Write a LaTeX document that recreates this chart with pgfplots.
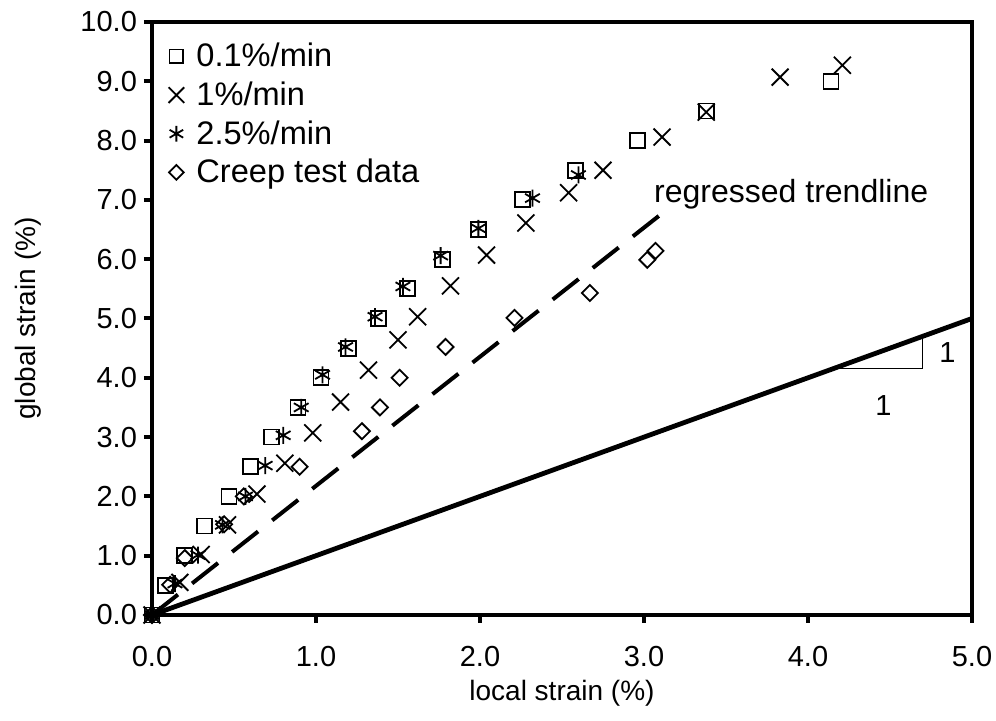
\documentclass[border=0pt]{standalone}
\usepackage{pgfplots}
\pgfplotsset{compat=1.18}
\usepackage{fontspec}
\setmainfont{Liberation Sans}
\begin{document}
\begin{tikzpicture}[font=\fontsize{14}{17}\selectfont]
\begin{axis}[
  name=ax,
  scale only axis,
  width=410pt, height=296.5pt,
  xmin=0, xmax=5, ymin=0, ymax=10,
  xtick={0,1,2,3,4,5}, ytick={0,1,2,3,4,5,6,7,8,9,10},
  xtick pos=left, ytick pos=left,
  tick align=outside,
  major tick length=4pt,
  every tick/.style={black, line width=2pt},
  axis line style={line width=2.4pt},
  tick label style={font=\fontsize{14.5}{17}\selectfont},
  label style={font=\fontsize{14}{17}\selectfont},
  xticklabel style={yshift=-8pt},
  /pgf/number format/assume math mode=true,
  xticklabel={\pgfmathprintnumber[fixed,fixed zerofill,precision=1]{\tick}},
  yticklabel={\pgfmathprintnumber[fixed,fixed zerofill,precision=1]{\tick}},
  xlabel={local strain (\%)},
  ylabel={global strain (\%)},
  every axis x label/.style={at={(axis description cs:0.5,-0.1315)}, anchor=center},
  every axis y label/.style={at={(axis description cs:-0.151,0.5)}, rotate=90, anchor=center},
  clip=false,
  legend image code/.code={\path[draw=none, fill=none] (-6pt,-5pt) rectangle (6pt,5pt); \draw[#1] plot coordinates {(0pt,0pt)};},
  legend image post style={/tikz/every mark/.append style={scale=0.92}},
  legend style={draw=none, fill=none, at={(0,1)}, anchor=north west, xshift=5pt, yshift=-7.4pt,
    row sep=2pt, inner sep=1pt, font=\fontsize{16.3}{19}\selectfont,
    /tikz/every odd column/.append style={column sep=2pt}},
  legend cell align=left,
]
% 0.1%/min
\addplot[only marks, mark=square, mark size=3.75pt, mark options={line width=0.9pt, black}] coordinates {
(0,0) (0.08,0.5) (0.2,1.0) (0.32,1.5) (0.47,2.0) (0.6,2.5) (0.73,3.0) (0.89,3.5) (1.03,4.0) (1.2,4.5)
(1.38,5.0) (1.56,5.5) (1.77,6.0) (1.99,6.5) (2.26,7.0) (2.58,7.5) (2.96,8.0) (3.38,8.5) (4.14,9.0)};
\addlegendentry{0.1\%/min}
% 1%/min
\addplot[only marks, mark=x, mark size=6pt, mark options={line width=0.9pt, black}] coordinates {
(0,0) (0.17,0.55) (0.30,1.02) (0.46,1.52) (0.64,2.04) (0.81,2.56) (0.98,3.07) (1.15,3.59) (1.32,4.13)
(1.50,4.64) (1.62,5.03) (1.82,5.55) (2.04,6.07) (2.28,6.61) (2.54,7.12) (2.75,7.50) (3.11,8.06)
(3.38,8.48) (3.83,9.07) (4.21,9.27)};
\addlegendentry{1\%/min}
% 2.5%/min
\addplot[only marks, mark=asterisk, mark size=4.25pt, mark options={line width=0.9pt, black}] coordinates {
(0,0) (0.14,0.53) (0.28,1.01) (0.43,1.52) (0.57,2.0) (0.69,2.52) (0.80,3.03) (0.91,3.5) (1.04,4.05)
(1.18,4.52) (1.36,5.03) (1.53,5.54) (1.76,6.06) (1.99,6.52) (2.32,7.03) (2.60,7.42)};
\addlegendentry{2.5\%/min}
% creep test data
\addplot[only marks, mark=square, mark size=2.83pt, mark options={line width=0.9pt, black, rotate=45}] coordinates {
(0,0) (0.11,0.51) (0.2,0.96) (0.44,1.53) (0.56,2.0) (0.9,2.5) (1.28,3.1) (1.39,3.5) (1.51,4.0)
(1.79,4.52) (2.21,5.01) (2.67,5.43) (3.02,5.99) (3.07,6.14)};
\addlegendentry{Creep test data}
% regressed trendline
\addplot[black, line width=2pt, dash pattern=on 16.5pt off 9pt, forget plot] coordinates {(0,0) (3.1,6.75)};
% 1:1 line
\addplot[black, line width=2.4pt, forget plot] coordinates {(0,0) (5,5)};
% slope triangle
\addplot[black, line width=0.6pt, forget plot] coordinates {(4.15,4.15) (4.70,4.15) (4.70,4.70)};
\node[anchor=base west, inner sep=0pt, font=\fontsize{16}{19}\selectfont] at (axis cs:3.06,6.96) {regressed trendline};
\node[font=\fontsize{14.5}{17}\selectfont] at (axis cs:4.85,4.42) {1};
\node[font=\fontsize{14.5}{17}\selectfont] at (axis cs:4.46,3.54) {1};
\end{axis}
\pgfresetboundingbox
\path[use as bounding box] ([xshift=-76pt,yshift=-53pt]ax.south west) rectangle ([xshift=12pt,yshift=11pt]ax.north east);
\end{tikzpicture}
\end{document}
